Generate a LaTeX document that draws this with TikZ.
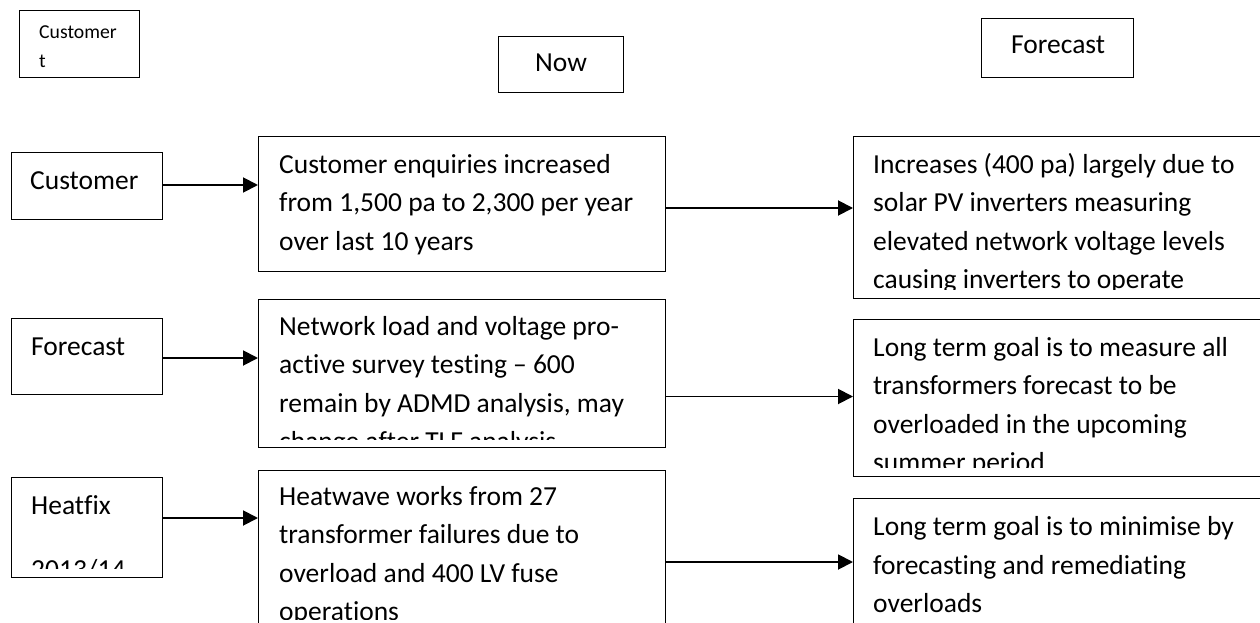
\documentclass[tikz,border=0pt]{standalone}
\usepackage{fontspec}
\setmainfont{Carlito}[Ligatures=NoCommon]
\usetikzlibrary{arrows.meta}
% several lines stacked, baseline at the first line
\newcommand\textlines[1]{\parbox[t]{520pt}{\raggedright #1}}
\begin{document}
\begin{tikzpicture}[x=1pt,y=-1pt,
  box/.style={draw, line width=1.2pt, inner sep=0pt, anchor=north west},
  lbl/.style={inner sep=0pt, anchor=base west, font=\fontsize{27.5}{38.5}\selectfont},
  small/.style={inner sep=0pt, anchor=base west, font=\fontsize{19.7}{29}\selectfont},
  link/.style={line width=1.9pt, -{Triangle[length=15pt,width=15pt]}}]
\fill[white] (0,0) rectangle (1260,623);
\clip (0,0) rectangle (1260,623);

% column headers
\node[box, minimum width=120pt, minimum height=67pt] (tl) at (19,10) {};
\node[small] (tlt) at (39,39) {\textlines{Customer\\t}};
\node[box, minimum width=125pt, minimum height=56pt] (now) at (498,36) {};
\node[lbl] (nowt) at (535,72) {Now};
\node[box, minimum width=152pt, minimum height=59pt] (fc) at (981,18) {};
\node[lbl] (fct) at (1011,54) {Forecast};

% left column
\node[box, minimum width=151pt, minimum height=67pt] (L1) at (11,152) {};
\node[lbl] (L1t) at (30,189) {Customer};
\node[box, minimum width=151pt, minimum height=76pt] (L2) at (11,318) {};
\node[lbl] (L2t) at (31,355) {Forecast};
\node[box, minimum width=151pt, minimum height=100pt] (L3) at (11,477) {};
\begin{scope}
  \clip (L3.north west) rectangle ([yshift=10pt]L3.south east);
  \node[lbl] (L3t) at (31,514) {Heatfix};
  \node[lbl] (L3y) at (31,578) {2013/14};
\end{scope}

% middle column
\node[box, minimum width=407pt, minimum height=135pt] (M1) at (258,136) {};
\node[lbl] (M1t) at (279,173) {\textlines{Customer enquiries increased\\from 1,500 pa to 2,300 per year\\over last 10 years}};
\node[box, minimum width=407pt, minimum height=148pt] (M2) at (258,299) {};
\begin{scope}
  \clip (M2.north west) rectangle ([yshift=9pt]M2.south east);
  \node[lbl] (M2t) at (279,335) {\textlines{Network load and voltage pro-\\active survey testing – 600\\remain by ADMD analysis, may\\change after TLF analysis}};
\end{scope}
\node[box, minimum width=407pt, minimum height=158pt] (M3) at (258,470) {};
\begin{scope}
  \clip (M3.north west) rectangle ([yshift=10pt]M3.south east);
  \node[lbl] (M3t) at (279,505) {\textlines{Heatwave works from 27\\transformer failures due to\\overload and 400 LV fuse\\operations}};
\end{scope}

% right column
\node[box, minimum width=406.5pt, minimum height=162pt] (R1) at (853,136) {};
\begin{scope}
  \clip (R1.north west) rectangle ([yshift=10pt]R1.south east);
  \node[lbl] (R1t) at (873,173) {\textlines{Increases (400 pa) largely due to\\solar PV inverters measuring\\elevated network voltage levels\\causing inverters to operate}};
\end{scope}
\node[box, minimum width=406.5pt, minimum height=157pt] (R2) at (853,319) {};
\begin{scope}
  \clip (R2.north west) rectangle ([yshift=10pt]R2.south east);
  \node[lbl] (R2t) at (873,356) {\textlines{Long term goal is to measure all\\transformers forecast to be\\overloaded in the upcoming\\summer period}};
\end{scope}
\node[box, minimum width=406.5pt, minimum height=132pt] (R3) at (853,498) {};
\node[lbl] (R3t) at (873,535.5) {\textlines{Long term goal is to minimise by\\forecasting and remediating\\overloads}};

% connector heights
\coordinate (y1a) at (0,185);
\coordinate (y1b) at (0,208);
\coordinate (y2a) at (0,358);
\coordinate (y2b) at (0,396.5);
\coordinate (y3a) at (0,518);
\coordinate (y3b) at (0,562);

\draw[link] (L1.east |- y1a) -- (M1.west |- y1a);
\draw[link] (M1.east |- y1b) -- (R1.west |- y1b);
\draw[link] (L2.east |- y2a) -- (M2.west |- y2a);
\draw[link] (M2.east |- y2b) -- (R2.west |- y2b);
\draw[link] (L3.east |- y3a) -- (M3.west |- y3a);
\draw[link] (M3.east |- y3b) -- (R3.west |- y3b);
\end{tikzpicture}
\end{document}
